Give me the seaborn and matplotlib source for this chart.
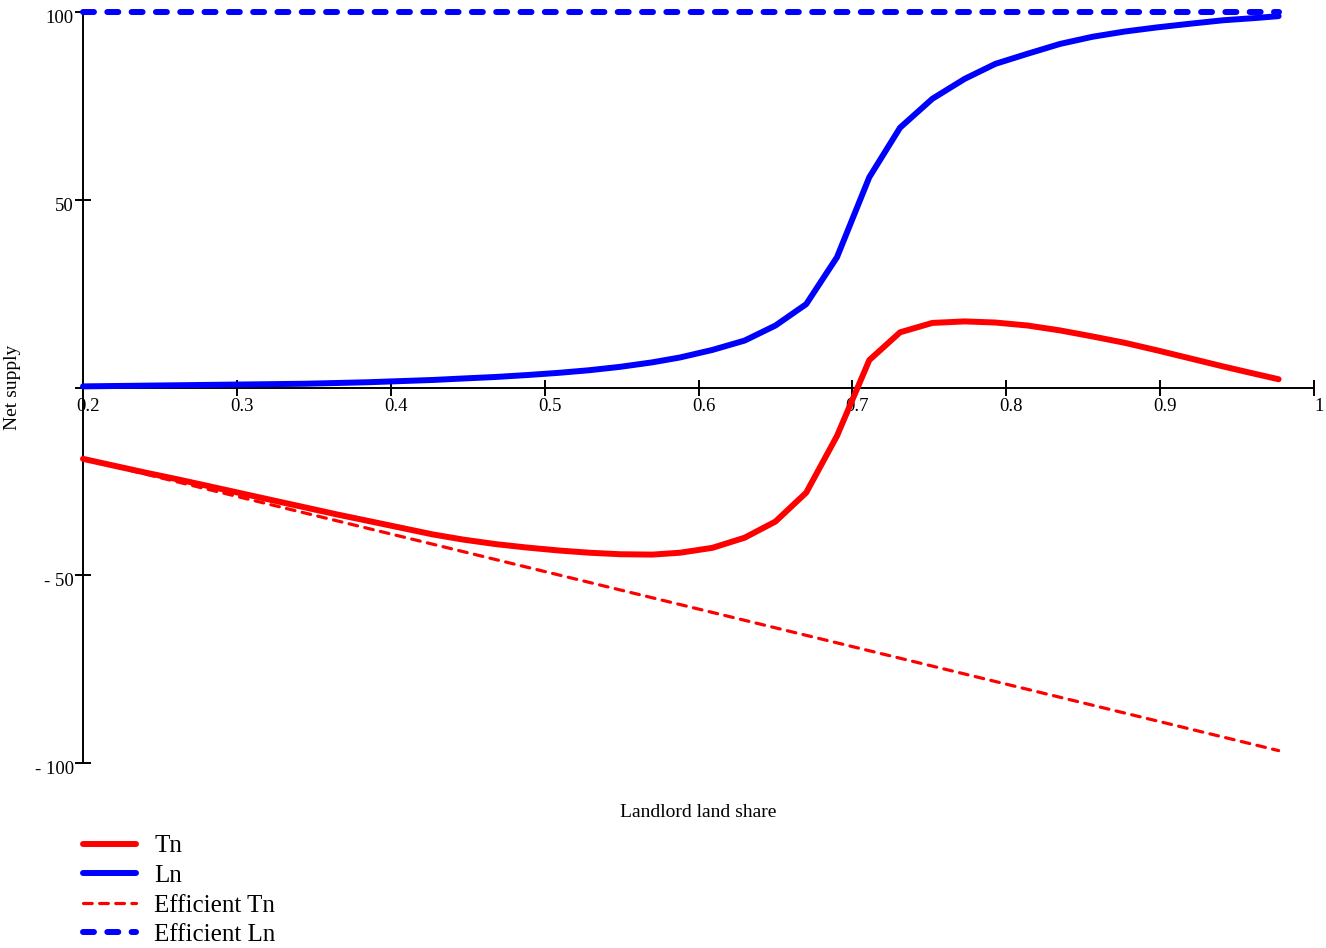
import numpy as np
import pandas as pd
import matplotlib
matplotlib.use("Agg")
import matplotlib.pyplot as plt
import seaborn as sns
from matplotlib.transforms import ScaledTranslation

# ---------------- data ----------------
share = [0.200, 0.221, 0.241, 0.262, 0.282, 0.303, 0.324, 0.344, 0.365, 0.385,
         0.406, 0.427, 0.447, 0.468, 0.488, 0.509, 0.529, 0.549, 0.570, 0.588,
         0.609, 0.630, 0.650, 0.670, 0.690, 0.711, 0.731, 0.752, 0.773, 0.793,
         0.814, 0.835, 0.856, 0.877, 0.898, 0.920, 0.941, 0.962, 0.977]
tn = [-19.0, -20.9, -22.7, -24.5, -26.3, -28.2, -30.1, -31.9, -33.8, -35.5,
      -37.3, -39.1, -40.5, -41.7, -42.6, -43.4, -44.0, -44.4, -44.5, -44.0,
      -42.7, -40.0, -35.7, -28.0, -12.9, 7.3, 14.7, 17.2, 17.6, 17.3,
      16.5, 15.2, 13.6, 11.9, 9.9, 7.7, 5.6, 3.6, 2.2]
ln = [0.3, 0.4, 0.5, 0.6, 0.7, 0.8, 0.9, 1.0, 1.2, 1.4,
      1.7, 2.0, 2.4, 2.8, 3.3, 3.9, 4.6, 5.5, 6.7, 8.0,
      10.0, 12.5, 16.5, 22.2, 34.7, 56.0, 69.2, 76.9, 82.2, 86.2,
      88.9, 91.5, 93.4, 94.8, 95.9, 96.9, 97.8, 98.4, 98.9]
eff_share = [0.200, 0.600, 0.977]
eff_tn = [-19.0, -59.0, -96.7]
eff_ln = [100.0, 100.0, 100.0]

x_ticks = [0.2, 0.3, 0.4, 0.5, 0.6, 0.7, 0.8, 0.9, 1.0]
x_tick_labels = ["0.2", "0.3", "0.4", "0.5", "0.6", "0.7", "0.8", "0.9", "1"]
y_ticks = [-100, -50, 0, 50, 100]
y_tick_labels = ["- 100", "- 50", "", "50", "100"]

series_names = ["Tn", "Ln", "Efficient Tn", "Efficient Ln"]

# ---------------- style ----------------
sns.set_theme(style="white")
plt.rcParams["font.family"] = ["Liberation Serif", "DejaVu Serif"]
plt.rcParams["lines.scale_dashes"] = False
plt.rcParams["text.color"] = "black"

fig = plt.figure(figsize=(13.26, 9.48), dpi=100)
ax = fig.add_axes([83 / 1326, 1 - 763 / 948, (1314 - 83) / 1326, (763 - 12) / 948])

df = pd.DataFrame({"share": share, "Tn": tn, "Ln": ln})
dfe = pd.DataFrame({"share": eff_share, "Efficient Tn": eff_tn, "Efficient Ln": eff_ln})

RED = "#ff0000"
BLUE = "#0000ff"

sns.lineplot(data=df, x="share", y="Tn", ax=ax, color=RED, linewidth=4.3,
             label=series_names[0], sort=False, estimator=None, clip_on=False)
sns.lineplot(data=df, x="share", y="Ln", ax=ax, color=BLUE, linewidth=4.3,
             label=series_names[1], sort=False, estimator=None, clip_on=False)
sns.lineplot(data=dfe, x="share", y="Efficient Tn", ax=ax, color=RED, linewidth=2.3,
             linestyle=(0, (6.3, 5.3)), label=series_names[2], sort=False,
             estimator=None, clip_on=False)
sns.lineplot(data=dfe, x="share", y="Efficient Ln", ax=ax, color=BLUE, linewidth=4.3,
             linestyle=(0, (7.9, 9.6)), label=series_names[3], sort=False,
             estimator=None, clip_on=False)

for line in ax.get_lines():
    line.set_solid_capstyle("round")
    line.set_dash_capstyle("round")

ax.set_xlim(0.2, 1.0)
ax.set_ylim(-100, 100)

# axes / spines
for s in ["top", "right"]:
    ax.spines[s].set_visible(False)
ax.spines["left"].set_position(("data", 0.2))
ax.spines["bottom"].set_position(("data", 0))
for s in ["left", "bottom"]:
    ax.spines[s].set_linewidth(1.4)
    ax.spines[s].set_color("black")
    ax.spines[s].set_zorder(0.5)

ax.set_xticks(x_ticks, x_tick_labels)
ax.set_yticks(y_ticks, y_tick_labels)
ax.tick_params(axis="both", which="major", bottom=True, left=True,
               direction="inout", length=12, width=1.4,
               color="black", labelsize=13.5, labelcolor="black")
ax.tick_params(axis="x", pad=1.5)
ax.tick_params(axis="y", pad=0.5)

xoff = ScaledTranslation(5 / 100, 0, fig.dpi_scale_trans)
for lab in ax.get_xticklabels():
    lab.set_transform(lab.get_transform() + xoff)
yoff = ScaledTranslation(0, -4.5 / 100, fig.dpi_scale_trans)
for lab in ax.get_yticklabels():
    lab.set_transform(lab.get_transform() + yoff)

ax.set_xlabel("Landlord land share", fontsize=14, color="black")
ax.xaxis.set_label_coords(0.5, (763 - 804) / 751)
ax.set_ylabel("Net supply", fontsize=14, color="black")
ax.yaxis.set_label_coords((21 - 83) / 1231, 0.5)

leg = ax.legend(loc="upper left", bbox_to_anchor=(83 / 1326, 1 - 835 / 948),
                bbox_transform=fig.transFigure, frameon=False, fontsize=18,
                handlelength=2.1, handletextpad=0.75, labelspacing=0.28,
                borderpad=0, borderaxespad=0, labelcolor="black")
for l in leg.get_lines():
    l.set_solid_capstyle("round")
    l.set_dash_capstyle("round")

fig.savefig("out.png", dpi=100, facecolor="white")
